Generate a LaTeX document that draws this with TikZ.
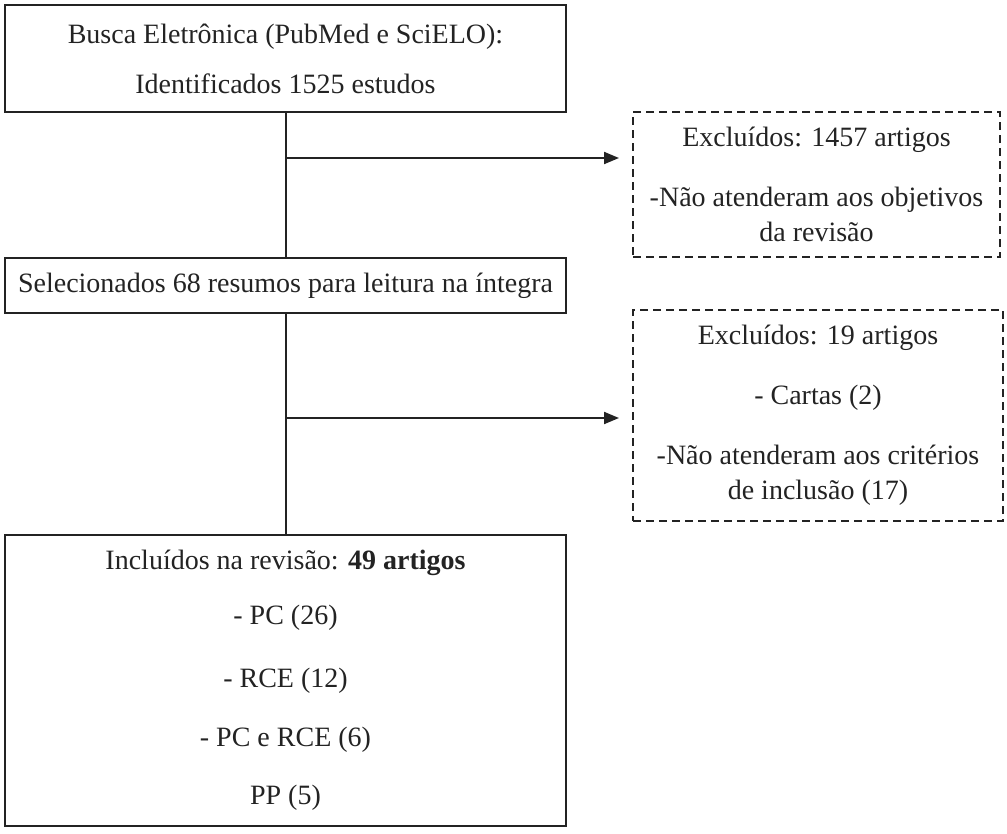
\documentclass[tikz,border=0pt]{standalone}
\usepackage{fontspec}
\setmainfont{Liberation Serif}
\usetikzlibrary{arrows.meta, positioning, calc}

\definecolor{inkgray}{RGB}{35,35,35}

\tikzset{
    solidbox/.style={draw=inkgray, line width=2pt, align=center, text=inkgray,
        inner sep=0pt, font=\fontsize{28}{32}\selectfont},
    dashbox/.style={solidbox, dash pattern=on 8pt off 5pt},
    flowline/.style={draw=inkgray, line width=2pt},
    flowarrow/.style={flowline, -{Triangle[length=15pt, width=12pt]}, shorten >=13pt}
}

\begin{document}
\begin{tikzpicture}[x=1pt, y=-1pt]
    % Fix the page to the size of the reference
    \useasboundingbox (0,0) rectangle (1007,833);

    % Main boxes on the left
    \node[solidbox, minimum width=561pt, minimum height=107pt] (busca) at (285.5,58.5)
        {Busca Eletrônica (PubMed e SciELO):\\[18pt] Identificados 1525 estudos};
    \node[solidbox, minimum width=561pt, minimum height=55pt] (selec) at (285.5,285.5)
        {Selecionados 68 resumos para leitura na íntegra};
    \node[solidbox, minimum width=561pt, minimum height=291pt] (incl) at (285.5,680.5)
        {Incluídos na revisão: \textbf{49 artigos}\\[23pt] - PC (26)\\[31pt] - RCE (12)\\[27pt] - PC e RCE (6)\\[26pt] PP (5)};

    % Dashed boxes for the excluded studies
    \node[dashbox, minimum width=367pt, minimum height=145pt] (excl1) at (816.5,184.5)
        {Excluídos: 1457 artigos\\[28pt] -Não atenderam aos objetivos\\[3pt] da revisão};
    \node[dashbox, minimum width=370pt, minimum height=211pt] (excl2) at (818,415.5)
        {Excluídos: 19 artigos\\[28pt] - Cartas (2)\\[28pt] -Não atenderam aos critérios\\[3pt] de inclusão (17)};

    % Branch points on the vertical line
    \coordinate (j1) at (busca.south |- 0,158);
    \coordinate (j2) at (selec.south |- 0,418);

    % Vertical flow
    \draw[flowline] (busca.south) -- (selec.north);
    \draw[flowline] (selec.south) -- (incl.north);

    % Arrows to the excluded boxes
    \draw[flowarrow] (j1) -- (j1 -| excl1.west);
    \draw[flowarrow] (j2) -- (j2 -| excl2.west);

\end{tikzpicture}
\end{document}
